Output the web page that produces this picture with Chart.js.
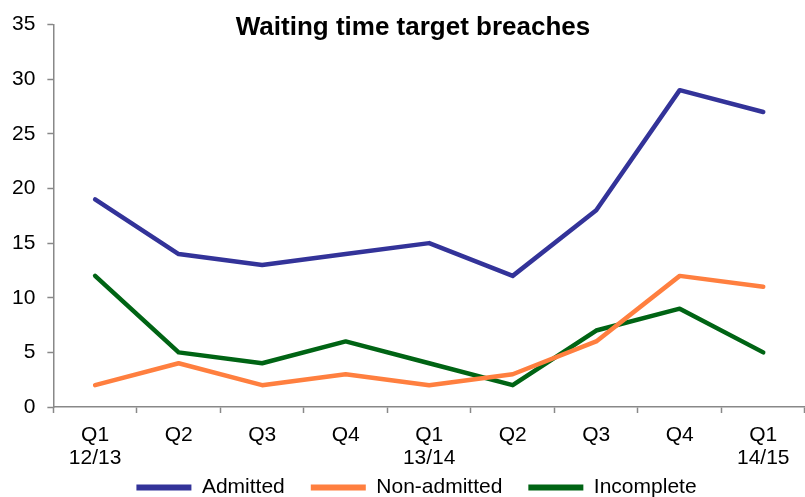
<!DOCTYPE html>
<html>
<head>
<meta charset="utf-8">
<script src="https://cdn.jsdelivr.net/npm/chart.js@4"></script>
<style>
  html, body { margin: 0; padding: 0; background: #fff; }
  #wrap { width: 805px; height: 497px; }
</style>
</head>
<body>
<div id="wrap"><canvas id="chart"></canvas></div>
<script>
const quarters = [['Q1', '12/13'], 'Q2', 'Q3', 'Q4', ['Q1', '13/14'], 'Q2', 'Q3', 'Q4', ['Q1', '14/15']];
const admitted = [19, 14, 13, 14, 15, 12, 18, 29, 27];
const nonAdmitted = [2, 4, 2, 3, 2, 3, 6, 12, 11];
const incomplete = [12, 5, 4, 6, 4, 2, 7, 9, 5];
const yTicks = [0, 5, 10, 15, 20, 25, 30, 35];

const FONT = 'Liberation Sans, Arial, sans-serif';
const AXIS_GREY = '#888888';

// title sits inside the plot area, so draw it by hand
const titlePlugin = {
  id: 'insideTitle',
  afterDraw(chart) {
    const ctx = chart.ctx;
    ctx.save();
    ctx.font = 'bold 26px ' + FONT;
    ctx.fillStyle = '#000';
    ctx.textAlign = 'center';
    ctx.textBaseline = 'middle';
    ctx.fillText('Waiting time target breaches', 413, 28);
    ctx.restore();
  }
};

// x labels run into the legend's top padding; widen the label clip so the 2nd line shows.
// legend sits a little right of centre in the original
const layoutTweaks = {
  id: 'layoutTweaks',
  afterLayout(chart) {
    chart.scales.x.bottom = chart.height;
    chart.legend.left += 28;
  }
};

const ctx = document.getElementById('chart').getContext('2d');
new Chart(ctx, {
  type: 'line',
  data: {
    labels: quarters,
    datasets: [
      { label: 'Admitted', data: admitted, borderColor: '#333399', backgroundColor: '#333399' },
      { label: 'Non-admitted', data: nonAdmitted, borderColor: '#FF7F3F', backgroundColor: '#FF7F3F' },
      { label: 'Incomplete', data: incomplete, borderColor: '#006414', backgroundColor: '#006414' }
    ]
  },
  options: {
    responsive: true,
    maintainAspectRatio: false,
    animation: false,
    devicePixelRatio: 1,
    layout: { padding: { top: 12, left: 0, right: 0, bottom: 0 } },
    elements: {
      line: { borderWidth: 4.5, tension: 0, borderCapStyle: 'round', borderJoinStyle: 'round' },
      point: { radius: 0, hoverRadius: 0 }
    },
    scales: {
      x: {
        offset: true,
        grid: { offset: true, drawOnChartArea: false, color: AXIS_GREY, tickLength: 6, tickWidth: 1.5 },
        border: { color: AXIS_GREY, width: 1.5 },
        ticks: { color: '#000', font: { family: FONT, size: 21, lineHeight: 1.1 }, padding: 11, maxRotation: 0, autoSkip: false },
        afterFit(scale) { scale.height = 44; }
      },
      y: {
        min: 0,
        max: 35,
        afterBuildTicks(axis) { axis.ticks = yTicks.map(v => ({ value: v })); },
        grid: { drawOnChartArea: false, color: AXIS_GREY, tickLength: 6, tickWidth: 1.5 },
        border: { color: AXIS_GREY, width: 1.5 },
        ticks: { color: '#000', font: { family: FONT, size: 21 }, padding: 12 }
      }
    },
    plugins: {
      title: { display: false },
      tooltip: { enabled: false },
      legend: {
        position: 'bottom',
        maxHeight: 46,
        labels: {
          color: '#000',
          font: { family: FONT, size: 21 },
          boxWidth: 55,
          boxHeight: 6,
          padding: 26,
          generateLabels(chart) {
            const items = Chart.defaults.plugins.legend.labels.generateLabels(chart);
            items.forEach(it => { it.lineWidth = 0; it.strokeStyle = it.fillStyle; });
            return items;
          }
        }
      }
    }
  },
  plugins: [titlePlugin, layoutTweaks]
});
</script>
</body>
</html>
